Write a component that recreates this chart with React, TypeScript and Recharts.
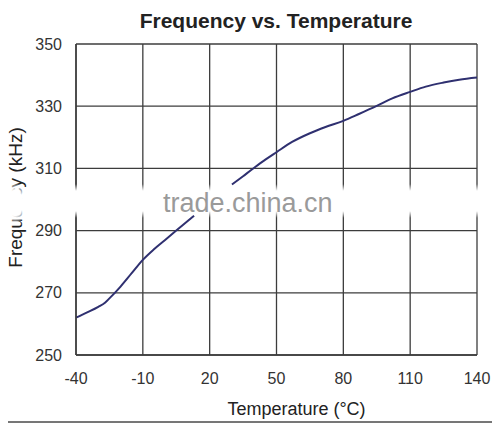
import React from 'react';
import { LineChart, Line, XAxis, YAxis, CartesianGrid } from 'recharts';

const TEMPS: number[] = [-40, -35, -30, -27, -25, -20, -15, -10, -5, 0, 5, 10, 13, 20, 30, 35, 40, 45, 50, 57, 65, 72, 80, 87, 95, 102, 110, 117, 125, 132, 140];
const FREQS: (number | null)[] = [262, 263.7, 265.5, 266.8, 268.2, 272, 276.3, 280.6, 284, 287, 290, 293, 294.8, null, 304.8, 307.5, 310.2, 312.8, 315.2, 318.5, 321.3, 323.3, 325.3, 327.5, 330.1, 332.5, 334.6, 336.3, 337.6, 338.5, 339.2];
const TEMP_TICKS: number[] = [-40, -10, 20, 50, 80, 110, 140];
const FREQ_TICKS: number[] = [250, 270, 290, 310, 330, 350];

const data = TEMPS.map((t, i) => ({ t, f: FREQS[i] }));

const FONT = '"Liberation Sans", Arial, sans-serif';
const GRID = '#3c3c3c';

const W = 500;
const H = 424;
const MARGIN = { top: 44, right: 23, bottom: 9, left: 16 };
const Y_AXIS_W = 60;
const PLOT_LEFT = MARGIN.left + Y_AXIS_W;
const PLOT_RIGHT = W - MARGIN.right;
const tempToX = (t: number) => PLOT_LEFT + ((t - TEMP_TICKS[0]) / (TEMP_TICKS[TEMP_TICKS.length - 1] - TEMP_TICKS[0])) * (PLOT_RIGHT - PLOT_LEFT);

const YLabel = (props: any) => {
  const vb = props.viewBox || { x: 0, y: 0, width: 0, height: 0 };
  const cx = 21.5;
  const cy = vb.y + vb.height / 2 - 2;
  return (
    <text
      x={cx}
      y={cy}
      transform={`rotate(-90 ${cx} ${cy})`}
      textAnchor="middle"
      fontSize={19}
      fontFamily={FONT}
      fill="#222"
    >
      Frequency (kHz)
    </text>
  );
};

export default function App() {
  return (
    <div style={{ position: 'relative', width: W, height: H, margin: '-8px 0 0 -8px', background: '#fff' }}>
      <LineChart width={W} height={H} data={data} margin={MARGIN}>
        <CartesianGrid stroke={GRID} strokeWidth={1.3} horizontalValues={FREQ_TICKS} verticalValues={TEMP_TICKS} />
        <XAxis
          type="number"
          dataKey="t"
          domain={[-40, 140]}
          ticks={TEMP_TICKS}
          interval={0}
          height={60}
          tickLine={false}
          tickSize={0}
          tickMargin={18}
          axisLine={{ stroke: GRID, strokeWidth: 1.5 }}
          tick={{ fill: '#333', fontSize: 16, fontFamily: FONT }}
          label={{ value: 'Temperature (°C)', position: 'insideBottom', offset: 0, dx: 20, fontSize: 18, fontFamily: FONT, fill: '#222' }}
        />
        <YAxis
          type="number"
          domain={[250, 350]}
          ticks={FREQ_TICKS}
          interval={0}
          width={Y_AXIS_W}
          tickLine={false}
          tickSize={0}
          tickMargin={14}
          axisLine={{ stroke: GRID, strokeWidth: 1.5 }}
          tick={{ fill: '#333', fontSize: 16, fontFamily: FONT }}
          label={<YLabel />}
        />
        <Line
          type="monotone"
          dataKey="f"
          stroke="#2f3070"
          strokeWidth={2}
          dot={false}
          connectNulls={false}
          isAnimationActive={false}
        />
      </LineChart>
      <svg width={W} height={H} style={{ position: 'absolute', left: 0, top: 0, pointerEvents: 'none' }}>
        <defs>
          <radialGradient id="blob" cx="50%" cy="50%" r="50%">
            <stop offset="0%" stopColor="#fff" stopOpacity={1} />
            <stop offset="60%" stopColor="#fff" stopOpacity={1} />
            <stop offset="100%" stopColor="#fff" stopOpacity={0} />
          </radialGradient>
        </defs>
        <rect x={1} y={1} width={497} height={421} fill="none" stroke="#4a4a4a" strokeWidth={1.5} />
        <text x={276} y={28} textAnchor="middle" fontSize={21} fontWeight="bold" fontFamily={FONT} fill="#222">
          Frequency vs. Temperature
        </text>
        {TEMP_TICKS.map((t) => (
          <ellipse key={t} cx={tempToX(t)} cy={201} rx={7} ry={17} fill="url(#blob)" />
        ))}
        <ellipse cx={15} cy={203} rx={13} ry={21} fill="url(#blob)" />
        <ellipse cx={497} cy={201} rx={7} ry={17} fill="url(#blob)" />
        <text x={163} y={212} fontSize={27} fontFamily={FONT} fill="#9a9a9a">
          trade.china.cn
        </text>
      </svg>
    </div>
  );
}
